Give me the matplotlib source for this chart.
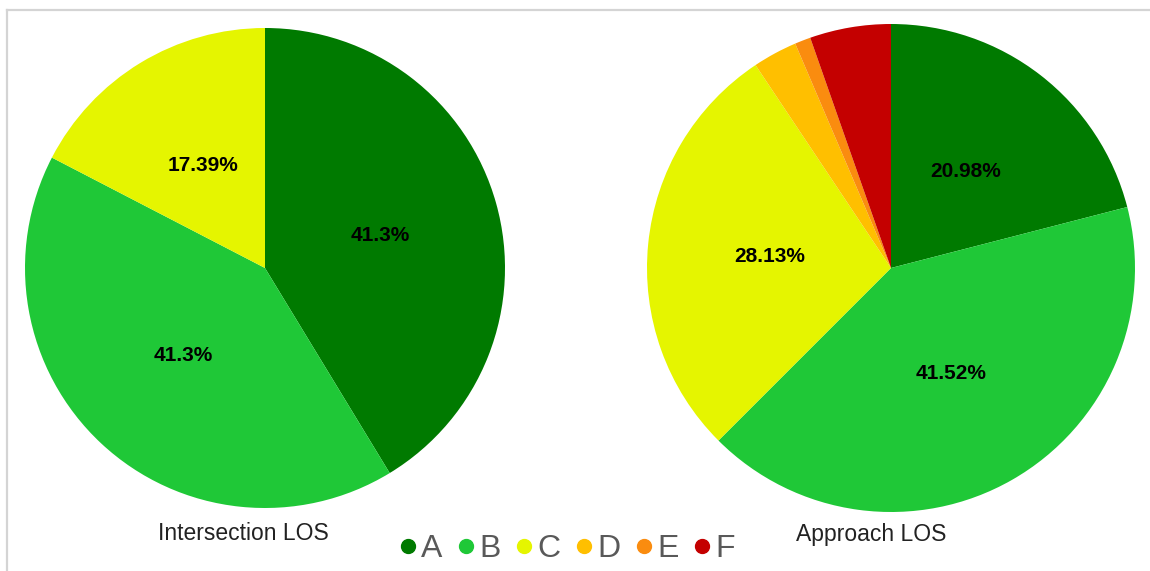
import matplotlib
matplotlib.use("Agg")
import matplotlib.pyplot as plt
from matplotlib.lines import Line2D

plt.rcParams['font.family'] = ['Liberation Sans', 'DejaVu Sans']

# level-of-service shares
categories = ["A", "B", "C", "D", "E", "F"]
colors = ["#007a00", "#1fc837", "#e5f500", "#ffbf00", "#fa8c0f", "#c40000"]
intersection_los = [41.3, 41.3, 17.39, 0, 0, 0]
approach_los = [20.98, 41.52, 28.13, 2.95, 1.05, 5.37]

W, H = 1150, 571


def fmt_pct(p):
    if p < 8:
        return ""
    return f"{p:.2f}".rstrip("0").rstrip(".") + "%"


def draw_pie(cx, cy, r, values, title, title_x):
    ax = fig.add_axes([(cx - r) / W, (H - cy - r) / H, 2 * r / W, 2 * r / H])
    vals = [v for v in values if v > 0]
    cols = [c for v, c in zip(values, colors) if v > 0]
    ax.pie(vals, colors=cols, startangle=90, counterclock=False,
           autopct=fmt_pct, pctdistance=0.5,
           wedgeprops=dict(linewidth=0),
           textprops=dict(fontsize=15, fontweight="bold", color="black"))
    ax.set_xlim(-1, 1)
    ax.set_ylim(-1, 1)
    ax.set_aspect("equal")
    fig.text(title_x / W, 1 - 534 / H, title, ha="center", va="center",
             fontsize=16.5, color="#222222")
    return ax


fig = plt.figure(figsize=(W / 100, H / 100), dpi=100)

# frame around the chart area
fig.add_artist(Line2D([7 / W, 7 / W], [0, 1 - 10 / H], color="#d4d4d4", lw=1.6))
fig.add_artist(Line2D([7 / W, 1], [1 - 10 / H, 1 - 10 / H], color="#d4d4d4", lw=1.6))

draw_pie(265, 268, 240, intersection_los, "Intersection LOS", 243)
draw_pie(891, 268, 244, approach_los, "Approach LOS", 871)

handles = [Line2D([], [], marker="o", linestyle="", markersize=10,
                  markerfacecolor=c, markeredgecolor=c) for c in colors]
fig.legend(handles, categories, loc="center", bbox_to_anchor=(565 / W, 1 - 549 / H),
           ncol=6, frameon=False, fontsize=23, labelcolor="#595959",
           handletextpad=0.0, columnspacing=0.35, handlelength=0.8)

fig.savefig("out.png", dpi=100)
